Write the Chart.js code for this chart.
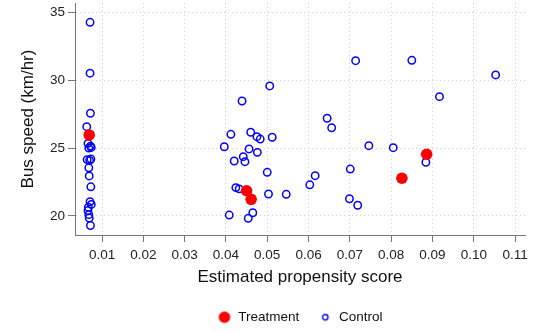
<!DOCTYPE html>
<html>
<head>
<meta charset="utf-8">
<script src="https://cdn.jsdelivr.net/npm/chart.js@4/dist/chart.umd.min.js"></script>
<style>
  html, body { margin: 0; padding: 0; background: #fff; }
</style>
</head>
<body>
<canvas id="psChart" width="537" height="332"></canvas>
<script>
// propensity score vs bus speed
var treatmentX = [0.0069, 0.0450, 0.0461, 0.0826, 0.0886];
var treatmentY = [25.97, 21.86, 21.23, 22.78, 24.55];

var controlX = [
    0.0071, 0.0071, 0.0072, 0.0063, 0.0066, 0.0072, 0.0068, 0.0074, 0.0064, 0.0070, 0.0073,
    0.0068, 0.0069, 0.0073, 0.0071, 0.0074, 0.0067, 0.0066, 0.0068, 0.0069, 0.0072,
    0.0714, 0.0506, 0.0439, 0.0645, 0.0656, 0.0412, 0.0460, 0.0475, 0.0483, 0.0512,
    0.0396, 0.0456, 0.0476, 0.0442, 0.0420, 0.0446, 0.0500, 0.0616, 0.0603, 0.0701,
    0.0424, 0.0432, 0.0503, 0.0546, 0.0699, 0.0719, 0.0408, 0.0465, 0.0454,
    0.0850, 0.1053, 0.0917, 0.0746, 0.0805, 0.0884
];
var controlY = [
    34.27, 30.52, 27.57, 26.58, 25.35, 25.15, 25.00, 25.05, 24.15, 24.10, 24.20,
    23.55, 22.95, 22.15, 21.05, 20.85, 20.65, 20.40, 20.10, 19.85, 19.30,
    31.44, 29.58, 28.47, 27.20, 26.50, 26.02, 26.17, 25.84, 25.67, 25.80,
    25.10, 24.94, 24.69, 24.37, 24.05, 24.00, 23.22, 22.97, 22.30, 23.46,
    22.09, 22.00, 21.62, 21.60, 21.27, 20.79, 20.07, 20.24, 19.83,
    31.47, 30.39, 28.79, 25.18, 25.03, 23.96
];

var xTicks = [0.01, 0.02, 0.03, 0.04, 0.05, 0.06, 0.07, 0.08, 0.09, 0.10, 0.11];
var yTicks = [20, 25, 30, 35];

function toPoints(xs, ys) {
    return xs.map(function (x, i) { return {x: x, y: ys[i]}; });
}

// little marker images for the legend (they differ in size)
function legendMarker(size, fill, stroke, r, lw) {
    var c = document.createElement('canvas');
    c.width = size; c.height = size;
    var g = c.getContext('2d');
    g.beginPath();
    g.arc(size / 2, size / 2, r, 0, Math.PI * 2);
    if (fill) { g.fillStyle = fill; g.fill(); }
    if (stroke) { g.strokeStyle = stroke; g.lineWidth = lw; g.stroke(); }
    return c;
}
var redDot = legendMarker(14, '#ff0000', null, 5.8, 0);
var blueRing = legendMarker(10, null, '#0000ff', 2.7, 1.4);

var font = '"Liberation Sans", Arial, Helvetica, sans-serif';

// only draw grid lines on the real ticks
function gridColor(list) {
    return function (ctx) {
        if (ctx.tick && list.indexOf(ctx.tick.value) >= 0) return '#d2d2d2';
        return 'rgba(0,0,0,0)';
    };
}
function tickColor(list) {
    return function (ctx) {
        if (ctx.tick && list.indexOf(ctx.tick.value) >= 0) return '#777';
        return 'rgba(0,0,0,0)';
    };
}

var data = {
    datasets: [{
        label: 'Treatment',
        data: toPoints(treatmentX, treatmentY),
        backgroundColor: '#ff0000',
        borderColor: '#ff0000',
        borderWidth: 0,
        pointRadius: 5.8,
        pointHoverRadius: 5.8
    }, {
        label: 'Control',
        data: toPoints(controlX, controlY),
        backgroundColor: 'rgba(0,0,0,0)',
        borderColor: '#0000ff',
        borderWidth: 1.5,
        pointRadius: 3.7,
        pointHoverRadius: 3.7
    }]
};

var config = {
    type: 'scatter',
    data: data,
    options: {
        responsive: false,
        animation: false,
        layout: {autoPadding: false, padding: {top: 3, right: 12, left: 0, bottom: -2}},
        plugins: {
            tooltip: {enabled: false},
            legend: {
                position: 'bottom',
                fullSize: false,
                labels: {
                    usePointStyle: true,
                    pointStyleWidth: 14,
                    padding: 19,
                    color: '#111',
                    font: {family: font, size: 13.5},
                    generateLabels: function (chart) {
                        var items = Chart.defaults.plugins.legend.labels.generateLabels(chart);
                        items[0].pointStyle = redDot;
                        items[1].pointStyle = blueRing;
                        return items;
                    }
                }
            }
        },
        scales: {
            x: {
                type: 'linear',
                min: 0.00346,
                max: 0.1124,
                afterBuildTicks: function (scale) {
                    scale.ticks = xTicks.map(function (v) { return {value: v}; });
                },
                afterFit: function (scale) {
                    scale.height = 56.5;
                    scale.paddingLeft = 0;
                    scale.paddingRight = 0;
                },
                ticks: {
                    color: '#222',
                    padding: 5,
                    maxRotation: 0,
                    font: {family: font, size: 13.5},
                    callback: function (v) { return v.toFixed(2); }
                },
                grid: {
                    color: gridColor(xTicks),
                    lineWidth: 1,
                    tickLength: 7,
                    tickColor: tickColor(xTicks)
                },
                border: {color: '#777', width: 1, dash: [1, 3]},
                title: {
                    display: true,
                    text: 'Estimated propensity score',
                    color: '#111',
                    font: {family: font, size: 17},
                    padding: {top: 0, bottom: 4}
                }
            },
            y: {
                type: 'linear',
                min: 18.6,
                max: 35.69,
                afterBuildTicks: function (scale) {
                    scale.ticks = yTicks.map(function (v) { return {value: v}; });
                },
                afterFit: function (scale) {
                    scale.width = 75;
                    scale.paddingTop = 0;
                    scale.paddingBottom = 0;
                },
                ticks: {
                    color: '#222',
                    padding: 3,
                    font: {family: font, size: 13.5}
                },
                grid: {
                    color: gridColor(yTicks),
                    lineWidth: 1,
                    tickLength: 7,
                    tickColor: tickColor(yTicks)
                },
                border: {color: '#777', width: 1, dash: [1, 3]},
                title: {
                    display: true,
                    text: 'Bus speed (km/hr)',
                    color: '#111',
                    font: {family: font, size: 17},
                    padding: {top: 18, bottom: 0}
                }
            }
        }
    }
};

var psChart = new Chart(document.getElementById('psChart'), config);
</script>
</body>
</html>
